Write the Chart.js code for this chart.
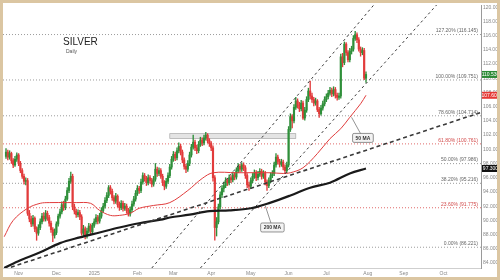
<!DOCTYPE html>
<html>
<head>
<meta charset="utf-8">
<script src="https://cdn.jsdelivr.net/npm/chart.js@4.4.1/dist/chart.umd.min.js"></script>
<style>
  html, body { margin: 0; padding: 0; background: #fff; }
  canvas { display: block; }
</style>
</head>
<body>
<canvas id="myChart" width="500" height="280"></canvas>
<script>
// daily candles, index 0 = first visible session (late Oct 2024)
const firstOpen = 99.0
const closes = [
  99.6, 98.9, 99.4, 98.4, 97.8, 98.6, 99.2, 98.0, 97.0, 96.2,
  95.5, 95.6, 91.0, 90.2, 89.5, 90.3, 88.8, 88.2, 89.0, 89.8,
  90.6, 90.2, 91.0, 90.4, 89.6, 88.7, 87.9, 88.3, 89.5, 90.6,
  91.2, 92.2, 91.8, 93.0, 94.2, 95.5, 96.2, 91.9, 91.3, 90.8,
  91.1, 90.5, 88.2, 88.8, 87.8, 88.5, 89.2, 88.4, 89.3, 89.8,
  90.4, 89.9, 90.6, 91.4, 92.0, 92.8, 93.5, 94.6, 94.1, 93.2,
  92.7, 93.4, 92.2, 91.8, 92.4, 91.7, 92.0, 91.4, 90.9, 91.5,
  92.3, 93.0, 93.8, 94.5, 94.2, 95.4, 96.3, 95.9, 95.3, 96.0,
  95.6, 95.1, 95.8, 97.2, 96.6, 97.0, 96.2, 95.3, 94.8, 95.5,
  96.3, 97.5, 98.6, 99.3, 98.8, 99.8, 100.4, 99.6, 98.5, 97.6,
  97.2, 98.0, 99.2, 100.3, 101.0, 100.2, 99.8, 100.7, 101.3, 100.9,
  101.6, 102.0, 101.2, 100.8, 100.2, 96.0, 89.0, 89.8, 91.9, 93.6,
  94.5, 94.9, 95.6, 95.3, 96.0, 95.7, 96.4, 96.1, 97.0, 97.6,
  97.2, 97.8, 97.4, 96.3, 95.0, 94.8, 95.6, 96.2, 96.7, 96.0,
  96.5, 96.9, 96.2, 96.6, 95.4, 94.9, 95.6, 96.3, 96.6, 97.8,
  98.9, 98.3, 97.9, 98.2, 97.5, 97.0, 97.8, 102.8, 104.6, 104.0,
  105.9, 106.8, 106.2, 105.7, 106.5, 104.4, 105.5, 107.0, 108.2, 107.5,
  107.0, 106.5, 106.8, 105.6, 105.0, 105.8, 106.4, 107.0, 107.4, 107.9,
  108.3, 107.8, 108.4, 107.6, 107.3, 107.5, 113.0, 112.2, 114.8, 113.6,
  112.6, 113.8, 114.1, 115.6, 116.1, 115.4, 114.1, 113.6, 113.9, 110.0,
  110.53
]
const highs = [
  100.1, 99.9, 99.8, 99.6, 98.7, 99.0, 99.5, 99.4, 98.3, 97.3,
  96.5, 96.0, 95.9, 91.4, 90.6, 90.7, 90.5, 89.1, 89.4, 90.2,
  91.0, 91.1, 91.4, 91.3, 90.7, 89.9, 89.0, 88.8, 89.8, 90.9,
  91.6, 92.6, 92.7, 93.4, 94.6, 95.9, 96.8, 96.5, 92.3, 91.6,
  91.5, 91.4, 90.8, 89.3, 89.1, 88.9, 89.6, 89.5, 89.6, 90.2,
  90.8, 90.7, 91.0, 91.8, 92.4, 93.2, 93.9, 94.9, 94.9, 94.4,
  93.5, 93.8, 93.6, 92.6, 92.8, 92.7, 92.4, 92.3, 91.7, 91.9,
  92.7, 93.4, 94.2, 94.9, 94.8, 95.8, 96.7, 96.6, 96.2, 96.4,
  96.3, 95.9, 96.2, 98.0, 97.5, 97.4, 97.3, 96.5, 95.6, 95.9,
  96.7, 97.9, 99.0, 99.7, 99.6, 100.2, 100.9, 100.7, 99.9, 98.8,
  97.9, 98.4, 99.6, 100.7, 102.0, 101.3, 100.6, 101.1, 101.7, 101.6,
  102.0, 102.4, 102.2, 101.5, 101.1, 100.5, 96.3, 90.4, 92.3, 94.0,
  94.9, 95.4, 96.0, 95.9, 96.4, 96.3, 96.8, 96.7, 97.4, 98.0,
  97.9, 98.1, 98.1, 97.7, 96.6, 95.4, 96.0, 96.6, 97.1, 97.0,
  96.9, 97.3, 97.2, 97.0, 96.9, 95.7, 96.0, 96.7, 97.0, 98.2,
  99.4, 99.2, 98.6, 98.6, 98.5, 97.8, 98.2, 103.2, 105.0, 104.9,
  106.3, 107.3, 107.1, 106.6, 106.9, 106.8, 105.9, 107.4, 108.6, 109.6,
  107.9, 107.3, 107.2, 107.0, 105.9, 106.2, 106.8, 107.4, 107.8, 108.3,
  108.7, 108.6, 108.8, 108.7, 107.9, 107.9, 113.4, 113.5, 115.1, 115.0,
  113.9, 114.2, 114.5, 116.0, 116.6, 116.4, 115.7, 114.4, 114.3, 114.2,
  110.9
]
const lows = [
  98.7, 98.5, 98.6, 98.0, 97.4, 97.6, 98.3, 97.7, 96.7, 95.9,
  95.1, 95.0, 90.7, 89.8, 89.1, 89.2, 88.4, 87.2, 87.9, 88.7,
  89.5, 89.9, 89.9, 90.0, 89.2, 88.3, 87.0, 87.5, 88.0, 89.2,
  90.3, 90.9, 91.4, 91.5, 92.8, 93.9, 95.2, 91.5, 90.9, 90.4,
  90.5, 90.1, 87.9, 87.8, 87.4, 87.5, 88.2, 88.0, 88.1, 89.0,
  89.5, 89.5, 89.6, 90.3, 91.1, 91.7, 92.5, 93.2, 93.7, 92.8,
  92.3, 92.4, 91.9, 91.4, 91.5, 91.3, 91.4, 91.0, 90.6, 90.6,
  91.2, 92.0, 92.7, 93.5, 93.8, 93.9, 95.1, 95.5, 94.9, 95.0,
  95.2, 94.7, 94.8, 95.5, 96.2, 96.3, 95.9, 94.9, 94.3, 94.5,
  95.2, 96.0, 97.2, 98.3, 98.4, 98.5, 99.5, 99.2, 98.1, 97.2,
  96.7, 96.9, 97.7, 98.9, 100.0, 99.8, 99.4, 99.5, 100.4, 100.5,
  100.6, 101.3, 100.9, 100.4, 99.8, 95.5, 87.2, 87.8, 89.5, 91.6,
  93.2, 94.0, 94.6, 94.9, 95.0, 95.3, 95.4, 95.7, 95.8, 96.7,
  96.8, 96.9, 97.0, 95.9, 94.6, 94.2, 94.5, 95.3, 95.9, 95.6,
  95.7, 96.2, 95.8, 95.9, 95.0, 94.2, 94.6, 95.3, 96.0, 96.3,
  97.5, 97.9, 97.5, 97.6, 97.1, 96.6, 96.7, 97.5, 102.5, 103.0,
  103.7, 105.6, 105.8, 105.3, 105.4, 104.2, 104.1, 105.2, 106.7, 107.1,
  106.6, 106.1, 106.2, 105.3, 104.5, 104.8, 105.5, 106.1, 106.7, 107.1,
  107.6, 107.4, 107.5, 107.2, 106.9, 107.0, 107.2, 111.6, 111.9, 113.2,
  112.3, 112.3, 113.4, 113.8, 115.3, 115.0, 113.8, 113.1, 113.3, 109.8,
  109.4
]

// month ticks (session index) and their labels
const monthTicks = [7, 28, 49, 73, 93, 114, 136, 157, 178, 201, 221, 243]
const monthLabels = ['Nov', 'Dec', '2025', 'Feb', 'Mar', 'Apr', 'May', 'Jun', 'Jul', 'Aug', 'Sep', 'Oct']
const priceTicks = [84, 86, 88, 90, 92, 94, 96, 98, 100, 102, 104, 106, 108, 110, 112, 114, 116, 118, 120]

// moving averages
const ma50Idx = [-1, 4, 12, 19, 24, 34, 39, 47, 52, 58, 63, 69, 74, 82, 91, 101, 109, 115, 128, 147, 154, 158, 165, 173, 180, 186, 191, 197, 200]
const ma50Val = [87.7, 90.0, 91.7, 92.4, 92.5, 92.5, 92.5, 92.4, 91.4, 90.7, 90.7, 91.0, 91.7, 92.1, 92.5, 94.2, 95.9, 96.7, 96.7, 96.7, 96.6, 96.7, 97.4, 99.4, 101.5, 102.9, 104.5, 106.4, 107.6]
const ma200Idx = [-1, 8, 19, 30, 41, 52, 63, 74, 86, 91, 102, 113, 124, 136, 147, 158, 169, 180, 191, 200]
const ma200Val = [83.3, 84.4, 85.5, 86.8, 87.6, 88.3, 89.0, 89.6, 90.1, 90.4, 90.8, 91.3, 91.4, 91.7, 92.5, 93.5, 94.6, 95.3, 96.6, 97.3]

// fibonacci retracement levels
const fibPct = ['127.20%', '100.00%', '78.60%', '61.80%', '50.00%', '38.20%', '23.60%', '0.00%']
const fibLevels = [116.145, 109.751, 104.714, 100.761, 97.986, 95.216, 91.775, 86.221]
const fibRed = [false, false, false, true, false, true, false, false].map(function(v, k) { return k === 3 || k === 6 })

// trend lines (index, price)
const trendA = [[81, 83.3], [205, 120.5]]
const trendB = [[108, 83.3], [241, 120.8]]
const trendC = [[-1, 83.1], [264, 105.2]]

// resistance zone
const zoneFrom = 91, zoneTo = 161, zoneLow = 101.5, zoneHigh = 102.2

const xMin = -1.67, xMax = 263.9
const yMin = 83.3, yMax = 120.3
const GREEN = '#2f8f3a', RED = '#e23b3b'
const FONT = '"Liberation Sans", Arial, sans-serif'

const opens = closes.map(function(c, i) { return i === 0 ? firstOpen : closes[i - 1] })
const candleColors = closes.map(function(c, i) { return c >= opens[i] ? GREEN : RED })

function pts(xs, ys) {
    return xs.map(function(x, i) { return { x: x, y: ys[i] } })
}

const fibSets = fibLevels.map(function(lv, k) {
    return {
        type: 'line',
        data: [{ x: xMin, y: lv }, { x: xMax, y: lv }],
        borderColor: fibRed[k] ? '#e06a6a' : '#9c9c9c',
        borderWidth: 1,
        borderDash: [1, 2],
        pointRadius: 0,
        order: 20
    }
})

function trendSet(line, width, dash) {
    return {
        type: 'line',
        data: line.map(function(p) { return { x: p[0], y: p[1] } }),
        borderColor: '#3a3a3a',
        borderWidth: width,
        borderDash: dash,
        pointRadius: 0,
        order: 1
    }
}

const overlay = {
    id: 'overlay',
    beforeDatasetsDraw(chart) {
        const ctx = chart.ctx
        const x = chart.scales.x, y = chart.scales.y
        const x0 = x.getPixelForValue(zoneFrom), x1 = x.getPixelForValue(zoneTo)
        const y0 = y.getPixelForValue(zoneHigh), y1 = y.getPixelForValue(zoneLow)
        ctx.save()
        ctx.fillStyle = 'rgba(205,205,205,0.55)'
        ctx.strokeStyle = '#a8a8a8'
        ctx.lineWidth = 0.7
        ctx.fillRect(x0, y0, x1 - x0, y1 - y0)
        ctx.strokeRect(x0, y0, x1 - x0, y1 - y0)
        ctx.restore()
    },
    afterDatasetsDraw(chart) {
        const ctx = chart.ctx
        const area = chart.chartArea
        const x = chart.scales.x, y = chart.scales.y
        ctx.save()

        // fib labels
        ctx.font = '5px ' + FONT
        ctx.textAlign = 'right'
        ctx.textBaseline = 'bottom'
        fibLevels.forEach(function(lv, k) {
            ctx.fillStyle = fibRed[k] ? '#d24a4a' : '#666'
            ctx.fillText(fibPct[k] + ' (' + lv.toFixed(3) + ')', area.right - 3, y.getPixelForValue(lv) - 1)
        })

        // callouts
        const callouts = [
            { text: '50 MA', ax: 192, ay: 104.5, bx: 198.3, by: 101.6 },
            { text: '200 MA', ax: 144, ay: 92.1, bx: 148, by: 89.0 }
        ]
        callouts.forEach(function(c) {
            const px = x.getPixelForValue(c.ax), py = y.getPixelForValue(c.ay)
            const qx = x.getPixelForValue(c.bx), qy = y.getPixelForValue(c.by)
            ctx.strokeStyle = '#777'
            ctx.lineWidth = 0.8
            ctx.beginPath()
            ctx.moveTo(px, py)
            ctx.lineTo(qx, qy)
            ctx.stroke()
            ctx.font = 'bold 5px ' + FONT
            const w = ctx.measureText(c.text).width + 6
            ctx.fillStyle = '#f3f3f3'
            ctx.beginPath()
            ctx.roundRect(qx - w / 2, qy - 4.5, w, 9, 1.5)
            ctx.fill()
            ctx.stroke()
            ctx.fillStyle = '#333'
            ctx.textAlign = 'center'
            ctx.textBaseline = 'middle'
            ctx.fillText(c.text, qx, qy + 0.5)
        })

        // price tags on the axis
        const tags = [
            { v: closes[closes.length - 1], bg: '#2b8a36' },
            { v: ma50Val[ma50Val.length - 1], bg: '#e53935' },
            { v: ma200Val[ma200Val.length - 1], bg: '#111' }
        ]
        ctx.font = '5px ' + FONT
        tags.forEach(function(t) {
            const ty = y.getPixelForValue(t.v)
            ctx.fillStyle = t.bg
            ctx.fillRect(area.right + 1, ty - 3.5, 17, 7)
            ctx.fillStyle = '#fff'
            ctx.textAlign = 'center'
            ctx.textBaseline = 'middle'
            ctx.fillText(t.v.toFixed(3), area.right + 9.5, ty + 0.3)
        })

        // title
        ctx.fillStyle = '#222'
        ctx.textAlign = 'left'
        ctx.textBaseline = 'alphabetic'
        ctx.font = '10px ' + FONT
        ctx.fillText('SILVER', 63, 45)
        ctx.fillStyle = '#555'
        ctx.font = '5px ' + FONT
        ctx.fillText('Daily', 66, 53)

        ctx.restore()
    },
    afterDraw(chart) {
        const ctx = chart.ctx
        ctx.save()
        ctx.strokeStyle = '#dbc6a2'
        ctx.lineWidth = 3
        ctx.strokeRect(1.5, 1.5, 497, 277)
        ctx.restore()
    }
}

const ctx = document.getElementById('myChart').getContext('2d')
new Chart(ctx, {
    type: 'bar',
    data: {
        datasets: fibSets.concat([
            {
                type: 'bar',
                data: closes.map(function(c, i) { return { x: i, y: [lows[i], highs[i]] } }),
                backgroundColor: candleColors,
                barThickness: 0.7,
                grouped: false,
                order: 6
            },
            {
                type: 'bar',
                data: closes.map(function(c, i) { return { x: i, y: [opens[i], c] } }),
                backgroundColor: candleColors,
                barThickness: 1.5,
                grouped: false,
                order: 5
            },
            {
                type: 'line',
                data: pts(ma50Idx, ma50Val),
                borderColor: '#e03c3c',
                borderWidth: 1,
                pointRadius: 0,
                tension: 0.35,
                order: 3
            },
            {
                type: 'line',
                data: pts(ma200Idx, ma200Val),
                borderColor: '#1a1a1a',
                borderWidth: 2.2,
                pointRadius: 0,
                tension: 0.35,
                order: 2
            },
            trendSet(trendA, 1, [2.5, 3]),
            trendSet(trendB, 1, [2.5, 3]),
            trendSet(trendC, 1.6, [4, 3])
        ])
    },
    options: {
        responsive: false,
        animation: false,
        layout: { padding: { left: 3, top: 3, right: 0, bottom: 0 } },
        plugins: {
            legend: { display: false },
            tooltip: { enabled: false }
        },
        scales: {
            x: {
                type: 'linear',
                min: xMin,
                max: xMax,
                offset: false,
                grid: { display: false, drawTicks: false },
                border: { display: true, color: '#cfcfcf' },
                ticks: {
                    font: { size: 5, family: FONT },
                    color: '#888',
                    padding: 3,
                    maxRotation: 0,
                    autoSkip: false,
                    callback: function(v) {
                        const k = monthTicks.indexOf(v)
                        return k >= 0 ? monthLabels[k] : ''
                    }
                },
                afterBuildTicks: function(s) {
                    s.ticks = monthTicks.map(function(v) { return { value: v } })
                },
                afterFit: function(s) { s.height = 12 }
            },
            y: {
                type: 'linear',
                position: 'right',
                min: yMin,
                max: yMax,
                grid: { display: false, drawTicks: false },
                border: { display: true, color: '#9a9a9a' },
                ticks: {
                    font: { size: 5, family: FONT },
                    color: '#888',
                    padding: 2,
                    callback: function(v) { return v.toFixed(3) }
                },
                afterBuildTicks: function(s) {
                    s.ticks = priceTicks.map(function(v) { return { value: v } })
                },
                afterFit: function(s) { s.width = 19 }
            }
        }
    },
    plugins: [overlay]
})
</script>
</body>
</html>
